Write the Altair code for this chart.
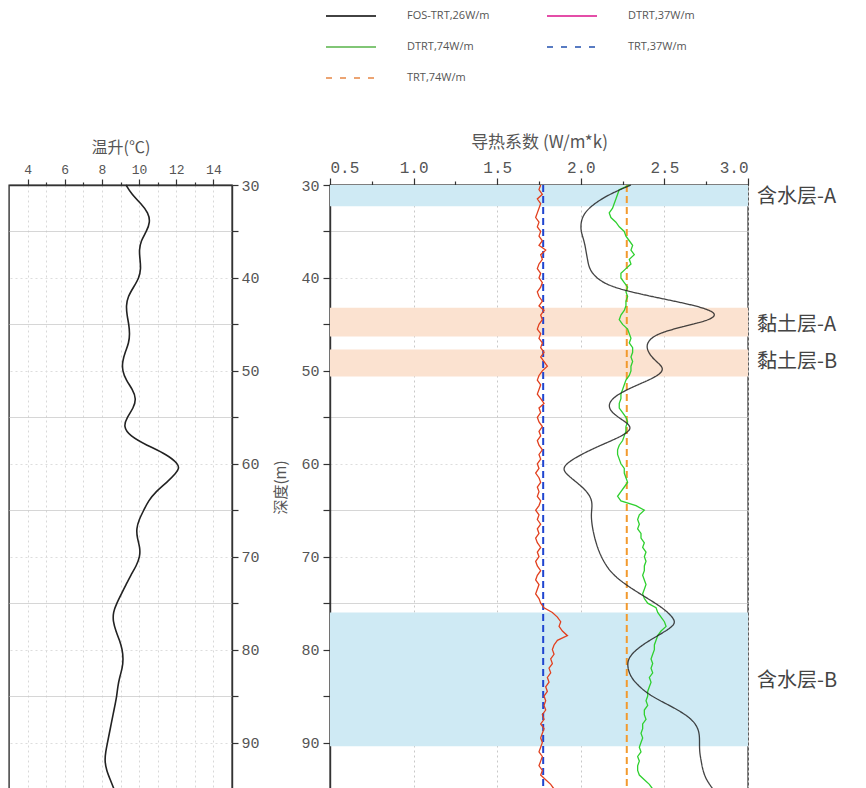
import altair as alt
import pandas as pd

# ---------------- data ----------------
temp_depth = [30, 31, 32, 33, 34, 35, 36, 37, 38, 39, 40, 41, 42, 43, 44, 45, 46, 47, 48, 49,
              50, 51, 52, 53, 54, 55, 56, 57, 58, 59, 60, 60.5, 61, 62, 63, 64, 65, 66, 67, 68,
              69, 70, 71, 72, 73, 74, 75, 76, 77, 78, 79, 80, 81, 82, 83, 84, 85, 86, 87, 88,
              89, 90, 91, 92, 93, 94, 95]
temp_rise = [9.3, 9.6, 10.1, 10.5, 10.6, 10.4, 10.1, 10.0, 10.05, 10.1, 10.0, 9.7, 9.4, 9.3, 9.35,
             9.45, 9.5, 9.45, 9.25, 9.1, 9.1, 9.3, 9.65, 9.85, 9.7, 9.35, 9.15, 9.5, 10.4, 11.5,
             12.1, 12.15, 12.0, 11.5, 10.9, 10.5, 10.25, 10.0, 9.85, 9.9, 10.05, 10.05, 9.85, 9.55,
             9.3, 9.05, 8.8, 8.6, 8.6, 8.75, 8.95, 9.1, 9.15, 9.1, 8.95, 8.85, 8.8, 8.7, 8.6, 8.5,
             8.4, 8.3, 8.2, 8.15, 8.25, 8.45, 8.65]

fos_depth = [30.0, 31.0, 32.0, 33.0, 34.0, 35.0, 36.0, 37.0, 38.0, 39.0, 40.0, 41.0, 42.0, 43.0,
             43.8, 44.5, 45.2, 46.0, 47.0, 48.0, 49.0, 49.7, 50.5, 51.5, 52.5, 53.5, 54.5, 55.5,
             56.2, 57.0, 58.0, 59.0, 60.0, 60.7, 61.5, 62.5, 63.5, 64.5, 65.5, 67.0, 68.5, 70.0,
             71.5, 72.5, 73.5, 74.5, 75.5, 76.5, 77.2, 78.0, 79.0, 80.0, 81.0, 82.0, 83.0, 84.0,
             85.0, 86.0, 87.0, 88.0, 89.0, 90.0, 91.0, 92.0, 93.0, 94.0, 95.0]
fos_k = [2.30, 2.17, 2.08, 2.02, 2.00, 2.00, 2.02, 2.03, 2.04, 2.05, 2.09, 2.18, 2.42, 2.70,
         2.82, 2.78, 2.62, 2.45, 2.39, 2.40, 2.45, 2.50, 2.47, 2.34, 2.22, 2.16, 2.18, 2.27,
         2.31, 2.25, 2.12, 2.00, 1.91, 1.89, 1.94, 2.01, 2.06, 2.07, 2.06, 2.07, 2.09, 2.12,
         2.17, 2.23, 2.31, 2.40, 2.49, 2.55, 2.57, 2.51, 2.41, 2.33, 2.28, 2.28, 2.30, 2.35,
         2.42, 2.53, 2.63, 2.69, 2.71, 2.71, 2.71, 2.72, 2.73, 2.75, 2.79]

dtrt_depth = [30 + 0.5 * i for i in range(131)]
dtrt74_k = [2.29, 2.23, 2.22, 2.21, 2.20, 2.19, 2.17, 2.18, 2.21, 2.23, 2.26, 2.27, 2.29, 2.31,
            2.30, 2.32, 2.29, 2.30, 2.27, 2.24, 2.24, 2.26, 2.28, 2.27, 2.28, 2.27, 2.27, 2.26,
            2.24, 2.23, 2.25, 2.28, 2.29, 2.30, 2.29, 2.31, 2.31, 2.30, 2.31, 2.30, 2.30, 2.29,
            2.27, 2.26, 2.25, 2.24, 2.24, 2.23, 2.23, 2.25, 2.27, 2.28, 2.27, 2.27, 2.26, 2.25,
            2.23, 2.22, 2.22, 2.23, 2.24, 2.26, 2.26, 2.27, 2.28, 2.26, 2.24, 2.22, 2.24, 2.33,
            2.38, 2.35, 2.34, 2.35, 2.34, 2.36, 2.36, 2.38, 2.37, 2.39, 2.38, 2.39, 2.38, 2.38,
            2.37, 2.38, 2.39, 2.38, 2.37, 2.38, 2.40, 2.45, 2.46, 2.48, 2.50, 2.51, 2.48, 2.46,
            2.45, 2.44, 2.44, 2.43, 2.42, 2.43, 2.42, 2.43, 2.41, 2.42, 2.41, 2.40, 2.40, 2.39,
            2.40, 2.38, 2.38, 2.39, 2.37, 2.37, 2.36, 2.37, 2.36, 2.35, 2.36, 2.34, 2.35, 2.34,
            2.34, 2.35, 2.38, 2.41, 2.43]
dtrt37_k = [1.76, 1.75, 1.77, 1.74, 1.76, 1.75, 1.74, 1.73, 1.75, 1.74, 1.76, 1.75, 1.77, 1.75,
            1.79, 1.76, 1.77, 1.75, 1.74, 1.76, 1.75, 1.77, 1.76, 1.74, 1.75, 1.77, 1.75, 1.78,
            1.76, 1.77, 1.75, 1.74, 1.76, 1.75, 1.77, 1.76, 1.78, 1.76, 1.78, 1.80, 1.77, 1.75,
            1.74, 1.76, 1.75, 1.74, 1.76, 1.78, 1.75, 1.76, 1.74, 1.75, 1.77, 1.75, 1.76, 1.74,
            1.75, 1.77, 1.75, 1.76, 1.74, 1.75, 1.73, 1.75, 1.76, 1.74, 1.75, 1.74, 1.76, 1.75,
            1.73, 1.75, 1.74, 1.76, 1.74, 1.75, 1.73, 1.74, 1.76, 1.74, 1.75, 1.73, 1.74, 1.76,
            1.74, 1.73, 1.75, 1.74, 1.73, 1.75, 1.76, 1.78, 1.83, 1.86, 1.88, 1.87, 1.89, 1.92,
            1.86, 1.84, 1.83, 1.84, 1.82, 1.83, 1.81, 1.82, 1.80, 1.81, 1.79, 1.80, 1.78, 1.79,
            1.78, 1.79, 1.77, 1.78, 1.76, 1.78, 1.77, 1.76, 1.77, 1.76, 1.75, 1.77, 1.76, 1.75,
            1.77, 1.76, 1.79, 1.82, 1.84]

trt37_k = [1.775]
trt74_k = [2.275]

series_names = ["FOS-TRT,26W/m", "DTRT,37W/m", "DTRT,74W/m", "TRT,37W/m", "TRT,74W/m"]
legend_colors = ["#222222", "#e0309a", "#6cbd5f", "#3b64b8", "#e9955a"]
legend_dashes = [[1, 0], [1, 0], [1, 0], [6, 8], [6, 8]]

aquifer_names = ["含水层-A", "含水层-B"]
aquifer_top = [30.0, 76.0]
aquifer_bottom = [32.3, 90.4]
clay_names = ["黏土层-A", "黏土层-B"]
clay_top = [43.2, 47.7]
clay_bottom = [46.3, 50.6]
label_names = ["含水层-A", "黏土层-A", "黏土层-B", "含水层-B"]
label_depth = [31.3, 45.1, 49.0, 83.4]

depth_ticks = list(range(30, 96, 5))
temp_ticks = list(range(4, 15))
k_ticks = [0.5, 0.75, 1.0, 1.25, 1.5, 1.75, 2.0, 2.25, 2.5, 2.75, 3.0]

# ---------------- layout/style ----------------
W_L, W_R, H = 223, 418, 604
MONO = "Liberation Mono"
CJK = "Noto Sans CJK SC"
TXT = "#555555"

yscale_L = alt.Scale(domain=[30, 95], nice=False, zero=False, reverse=True)
yscale_R = alt.Scale(domain=[30, 95], nice=False, zero=False, reverse=True)

grid_color_cond = {"condition": {"test": "datum.value % 10 === 5", "value": "#c8c8c8"}, "value": "#dddddd"}
grid_dash_cond = {"condition": {"test": "datum.value % 10 === 5", "value": [1, 0]}, "value": [2, 3]}

# ---------------- left panel ----------------
temp_df = pd.DataFrame({"depth": temp_depth, "temp": temp_rise})
left = alt.Chart(temp_df).mark_line(color="#222222", strokeWidth=1.6, interpolate="basis").encode(
    x=alt.X("temp:Q", scale=alt.Scale(domain=[3, 15], nice=False, zero=False),
            axis=alt.Axis(orient="top", title="温升(℃)", values=temp_ticks,
                          labelExpr="datum.value % 2 === 0 ? datum.label : ''",
                          labelOverlap=False, labelFont=MONO, labelFontSize=13,
                          tickSize={"condition": {"test": "datum.value % 2 === 0", "value": 6}, "value": 3},
                          gridDash=[2, 3], gridColor="#d8d8d8",
                          titleFont=CJK, titleFontSize=16, titleFontWeight="normal",
                          titlePadding=8, labelPadding=3)),
    y=alt.Y("depth:Q", scale=yscale_L,
            axis=alt.Axis(orient="right", title=None, values=depth_ticks,
                          labelExpr="datum.value % 10 === 0 ? datum.label : ''",
                          labelOverlap=False, labelFont=MONO, labelFontSize=15,
                          tickSize=6, labelPadding=3,
                          gridColor=grid_color_cond, gridDash=grid_dash_cond)),
    order="depth:Q",
).properties(width=W_L, height=H)

# ---------------- right panel ----------------
xscale_R = alt.Scale(domain=[0.5, 3.0], nice=False, zero=False)
x_axis_R = alt.Axis(orient="top", title="导热系数 (W/m*k)", values=k_ticks,
                    labelExpr="(datum.value * 2) % 1 === 0 ? format(datum.value, '.1f') : ''",
                    labelOverlap=False, labelFont=MONO, labelFontSize=16,
                    tickSize={"condition": {"test": "(datum.value * 2) % 1 === 0", "value": 7}, "value": 4},
                    gridDash=[2, 3],
                    gridOpacity={"condition": {"test": "(datum.value * 2) % 1 === 0", "value": 1}, "value": 0},
                    gridColor="#c8c8c8",
                    titleFont=CJK, titleFontSize=17, titleFontWeight="normal",
                    titlePadding=8, labelPadding=3)
y_axis_R = alt.Axis(orient="left", title="深度(m)", values=depth_ticks,
                    labelExpr="datum.value % 10 === 0 ? datum.label : ''",
                    labelOverlap=False, labelFont=MONO, labelFontSize=15,
                    tickSize=7, labelPadding=4,
                    gridColor=grid_color_cond, gridDash=grid_dash_cond,
                    titleFont=CJK, titleFontSize=15, titleFontWeight="normal", titlePadding=12)

aq_df = pd.DataFrame({"name": aquifer_names, "top": aquifer_top, "bottom": aquifer_bottom})
clay_df = pd.DataFrame({"name": clay_names, "top": clay_top, "bottom": clay_bottom})
lab_df = pd.DataFrame({"name": label_names, "depth": label_depth})
fos_df = pd.DataFrame({"depth": fos_depth, "k": fos_k, "series": series_names[0]})
d74_df = pd.DataFrame({"depth": dtrt_depth, "k": dtrt74_k})
d37_df = pd.DataFrame({"depth": dtrt_depth, "k": dtrt37_k})
t37_df = pd.DataFrame({"k": trt37_k})
t74_df = pd.DataFrame({"k": trt74_k})

aq = alt.Chart(aq_df).mark_rect(color="#cfeaf4").encode(
    y=alt.Y("top:Q", scale=yscale_R, axis=y_axis_R), y2="bottom:Q",
    x=alt.value(0), x2=alt.value(W_R))
clay = alt.Chart(clay_df).mark_rect(color="#fbe2d0").encode(
    y=alt.Y("top:Q", scale=yscale_R, axis=y_axis_R), y2="bottom:Q",
    x=alt.value(0), x2=alt.value(W_R))

legend = alt.Legend(title=None, orient="none", legendX=316, legendY=-195, columns=2,
                    direction="horizontal",
                    symbolType="stroke", symbolSize=2500, symbolStrokeWidth=2,
                    labelFont="Open Sans", labelFontSize=11, labelColor=TXT,
                    labelOffset=30, rowPadding=-15.5, columnPadding=53)

fos = alt.Chart(fos_df).mark_line(strokeWidth=1.3, interpolate="basis", opacity=0.85).encode(
    x=alt.X("k:Q", scale=xscale_R, axis=x_axis_R),
    y=alt.Y("depth:Q", scale=yscale_R, axis=y_axis_R),
    order="depth:Q",
    color=alt.Color("series:N", scale=alt.Scale(domain=series_names, range=legend_colors), legend=legend),
    strokeDash=alt.StrokeDash("series:N", scale=alt.Scale(domain=series_names, range=legend_dashes), legend=legend),
)
d74 = alt.Chart(d74_df).mark_line(color="#2fd02f", strokeWidth=1.3).encode(
    x=alt.X("k:Q", scale=xscale_R, axis=x_axis_R),
    y=alt.Y("depth:Q", scale=yscale_R, axis=y_axis_R),
    order="depth:Q")
d37 = alt.Chart(d37_df).mark_line(color="#e2401f", strokeWidth=1.3).encode(
    x=alt.X("k:Q", scale=xscale_R, axis=x_axis_R),
    y=alt.Y("depth:Q", scale=yscale_R, axis=y_axis_R),
    order="depth:Q")
t37 = alt.Chart(t37_df).mark_rule(color="#1f45d0", strokeWidth=2, strokeDash=[7, 4]).encode(
    x=alt.X("k:Q", scale=xscale_R, axis=x_axis_R))
t74 = alt.Chart(t74_df).mark_rule(color="#f29a2e", strokeWidth=2, strokeDash=[7, 4]).encode(
    x=alt.X("k:Q", scale=xscale_R, axis=x_axis_R))
labels = alt.Chart(lab_df).mark_text(align="left", baseline="middle", dx=9, font=CJK,
                                     fontSize=20, color="#444444", clip=False).encode(
    x=alt.X(datum=3.0, scale=xscale_R, axis=x_axis_R),
    y=alt.Y("depth:Q", scale=yscale_R, axis=y_axis_R),
    text="name:N")

right = alt.layer(aq, clay, t74, d74, fos, t37, d37, labels).properties(width=W_R, height=H)

chart = alt.hconcat(left, right, spacing=13).properties(
    padding={"left": 0, "top": -18, "right": 0, "bottom": 0}
).configure_view(stroke="#333333", strokeWidth=1.4).configure_axis(
    domainColor="#333333", tickColor="#333333", labelColor=TXT, titleColor=TXT,
    domainWidth=1.4, tickWidth=1.2
)

chart.save("out.html", embed_options={"renderer": "svg", "actions": False})
